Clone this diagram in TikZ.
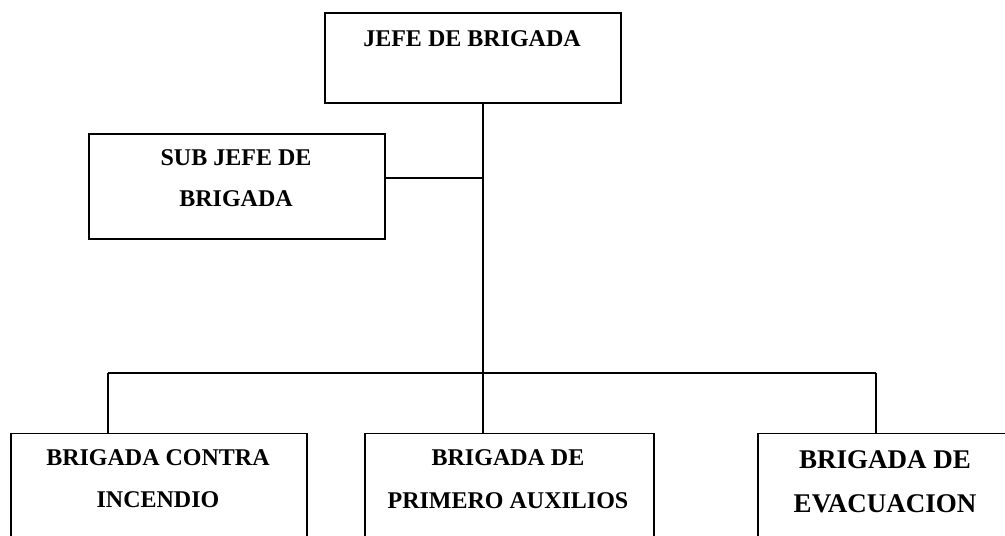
\documentclass[tikz,border=0pt]{standalone}
\usepackage{fontspec}
\setmainfont{Liberation Serif}
\begin{document}
\begin{tikzpicture}[x=1pt,y=-1pt,
  box/.style={draw=black,line width=1.8pt,rectangle,inner sep=0pt,anchor=north west},
  lbl/.style={inner sep=0pt,anchor=base,font=\fontsize{24}{24}\selectfont\bfseries},
  lblbig/.style={inner sep=0pt,anchor=base,font=\fontsize{27}{27}\selectfont\bfseries},
  con/.style={draw=black,line width=1.4pt},
  bus/.style={draw=black,line width=2pt}]
\useasboundingbox (0,0) rectangle (1005,536);
\clip (0,0) rectangle (1005,536);
% boxes
\node[box,minimum width=296pt,minimum height=90pt] (jefe) at (324,12) {};
\node[box,minimum width=296pt,minimum height=105pt] (sub) at (88,133) {};
\node[box,minimum width=296pt,minimum height=140pt] (b1) at (10,432.5) {};
\node[box,minimum width=289pt,minimum height=140pt] (b2) at (364,432.5) {};
\node[box,minimum width=256pt,minimum height=140pt] (b3) at (757,432.5) {};
% labels
\node[lbl] (tj) at (472,46) {JEFE DE BRIGADA};
\node[lbl] (ts1) at (236,165) {SUB JEFE DE};
\node[lbl] (ts2) at (236,206.5) {BRIGADA};
\node[lbl] (t11) at (158,465) {BRIGADA CONTRA};
\node[lbl] (t12) at (158,507) {INCENDIO};
\node[lbl] (t21) at (508,465) {BRIGADA DE};
\node[lbl] (t22) at (508,508) {PRIMERO AUXILIOS};
\node[lblbig] (t31) at (885,468) {BRIGADA DE};
\node[lblbig] (t32) at (885,512) {EVACUACION};
% connector coordinates
\coordinate (trunk) at (483,373);
\coordinate (subj) at (483,178);
\coordinate (busl) at (108,373);
\coordinate (busr) at (876,373);
% connectors
\draw[con] (jefe.south -| trunk) -- (trunk);
\draw[con] (sub.east |- subj) -- (subj);
\draw[bus] (busl) -- (busr);
\draw[con] (busl) -- (busl |- b1.north);
\draw[con] (trunk) -- (trunk |- b2.north);
\draw[con] (busr) -- (busr |- b3.north);
\end{tikzpicture}
\end{document}
